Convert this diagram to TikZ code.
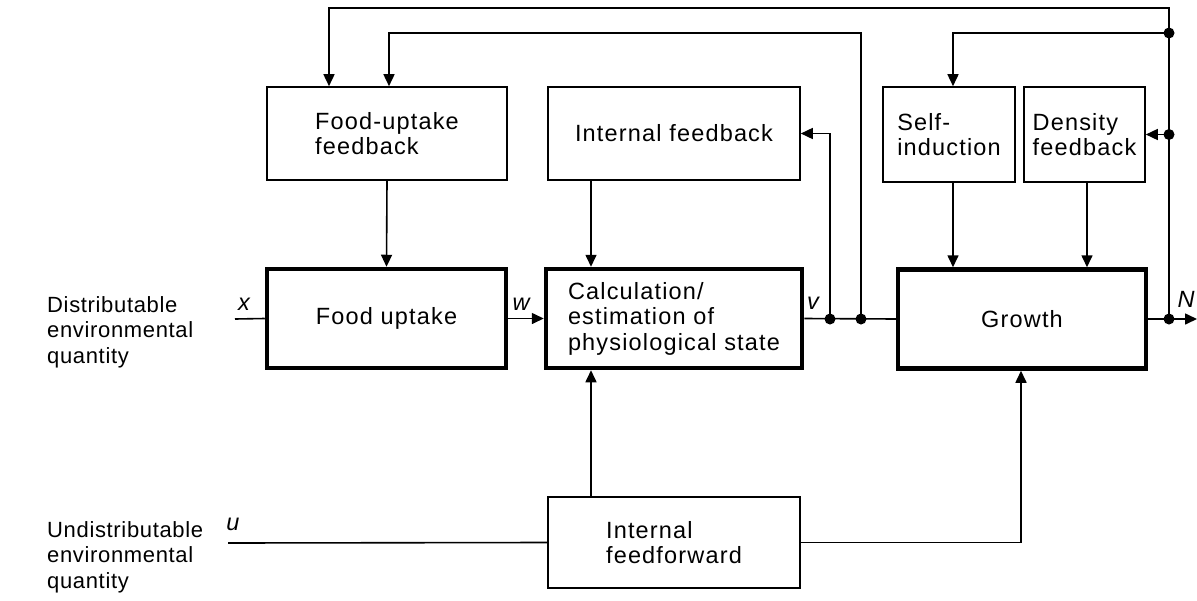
\documentclass[tikz,border=0pt]{standalone}
\usepackage{fontspec}
\setmainfont{Liberation Sans}[LetterSpace=5]
\newfontfamily\plainsans{Liberation Sans}[LetterSpace=3]
\usetikzlibrary{arrows.meta}
\newcommand\dfont{\fontsize{23.5}{25.5}\selectfont}
\newcommand\lfont{\plainsans\fontsize{22}{25.5}\selectfont}
\tikzset{
  box/.style={draw, line width=1.6pt, inner sep=0pt, align=left, font=\dfont},
  mainbox/.style={box, line width=4.5pt},
  conn/.style={line width=1.6pt},
  arr/.style={conn, -{Triangle[length=12pt,width=11pt]}},
  jdot/.style={circle, fill, inner sep=0pt, minimum size=11pt},
  sig/.style={font=\dfont\itshape, inner sep=0pt},
  lbl/.style={font=\lfont, align=left, inner sep=0pt, anchor=west}
}
\begin{document}
\begin{tikzpicture}[x=1pt,y=-1pt]
\useasboundingbox (0,0) rectangle (1197,600);
% boxes
\node[box, minimum width=240pt, minimum height=93pt] (fuf) at (387,133.5) {Food-uptake\\feedback};
\node[box, minimum width=252pt, minimum height=93pt] (inf) at (674,133.5) {Internal feedback};
\node[box, minimum width=132pt, minimum height=95pt] (si) at (949,134.5) {Self-\\induction};
\node[box, minimum width=121pt, minimum height=95pt] (df) at (1084.5,134.5) {Density\\feedback};
\node[mainbox, minimum width=239pt, minimum height=99pt] (fu) at (386.5,318.5) {Food uptake};
\node[mainbox, minimum width=256pt, minimum height=99pt] (calc) at (674,318.5) {Calculation/\\estimation of\\physiological state};
\node[mainbox, minimum width=248pt, minimum height=99pt] (gr) at (1022,319) {Growth};
\node[box, minimum width=252pt, minimum height=91pt] (iff) at (674,542.5) {Internal\\feedforward};
% left labels
\node[lbl] (dist) at (47,332) {Distributable\\environmental\\quantity};
\node[lbl] (undist) at (47,557) {Undistributable\\environmental\\quantity};
% junctions and helper coordinates
\coordinate (d1) at (830,319);
\coordinate (d2) at (861,319);
\coordinate (d3) at (1169,319);
\coordinate (d4) at (1169,33);
\coordinate (d5) at (1169,134.5);
\coordinate (t1) at (329,8);
\coordinate (t2) at (389,33);
\coordinate (t3) at (953,33);
\coordinate (c1) at (591,0);
\coordinate (c2) at (1087,0);
\coordinate (c3) at (1021,0);
\coordinate (xin) at (235,319);
\coordinate (uin) at (228,543);
\coordinate (nout) at (1197,319);
% signal lines
\draw[conn] (xin) -- (fu.west);
\draw[arr] (fu.east) -- (calc.west);
\draw[conn] (calc.east) -- (gr.west);
\draw[arr] (gr.east) -- (nout);
\draw[conn] (uin) -- (iff.west);
% feedback paths
\draw[arr] (d3) |- (t1) -- (t1 |- fuf.north);
\draw[arr] (d2) |- (t2) -- (t2 |- fuf.north);
\draw[arr] (d4) -- (t3) -- (t3 |- si.north);
\draw[arr] (d1) |- (inf.east);
\draw[arr] (d5) -- (df.east);
% vertical links
\draw[arr] (fuf.south) -- (fu.north);
\draw[arr] (inf.south -| c1) -- (calc.north -| c1);
\draw[arr] (si.south -| t3) -- (gr.north -| t3);
\draw[arr] (df.south -| c2) -- (gr.north -| c2);
\draw[arr] (iff.north -| c1) -- (calc.south -| c1);
\draw[arr] (iff.east) -| (gr.south -| c3);
% dots
\foreach \p in {d1,d2,d3,d4,d5} \node[jdot] at (\p) {};
% signal labels
\node[sig] (lx) at (244,304) {x};
\node[sig] (lw) at (521,304) {w};
\node[sig] (lv) at (813,303) {v};
\node[sig] (lN) at (1186,299) {N};
\node[sig] (lu) at (233,524) {u};
\end{tikzpicture}
\end{document}
